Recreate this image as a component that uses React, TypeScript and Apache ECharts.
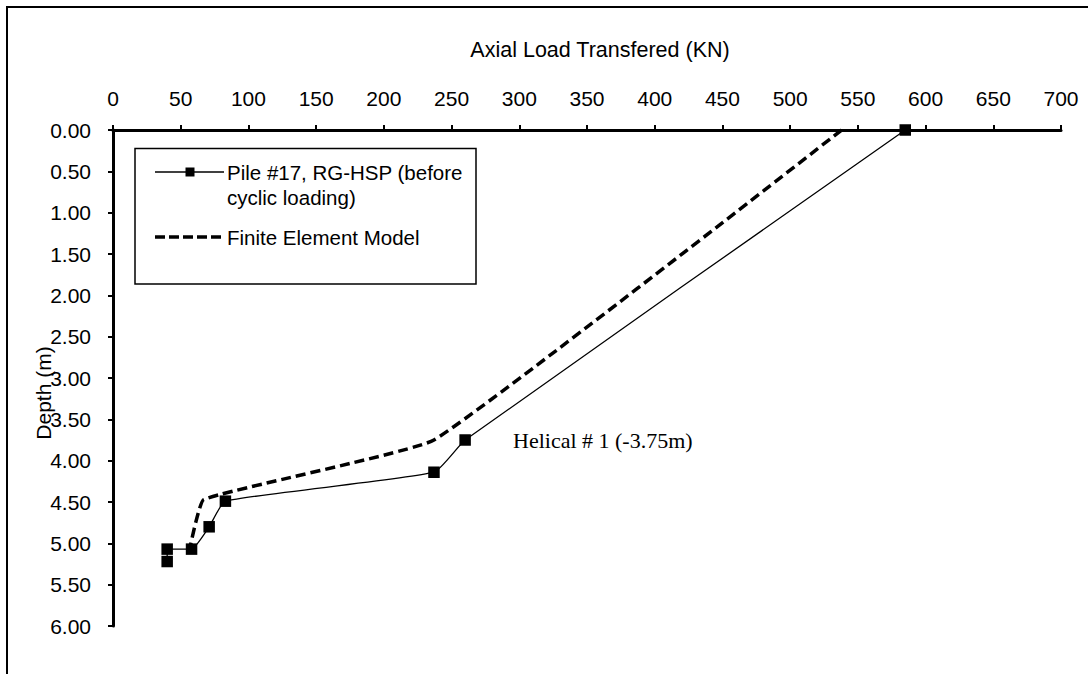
import React, { useEffect, useRef } from "react";
import * as echarts from "echarts";

// Axial load transferred (KN) vs depth (m)
const pileLoad = [585, 260, 237, 83, 71, 58, 40, 40];
const pileDepth = [0, 3.75, 4.14, 4.49, 4.8, 5.07, 5.07, 5.22];
const feLoad = [538, 237, 67, 57];
const feDepth = [0, 3.75, 4.47, 5.04];

const pileName = "Pile #17, RG-HSP (before cyclic loading)";
const feName = "Finite Element Model";
const xTitle = "Axial Load Transfered (KN)";
const yTitle = "Depth (m)";
const annotation = "Helical # 1 (-3.75m)";

const SANS = "'Liberation Sans', Arial, sans-serif";
const SERIF = "'Liberation Serif', 'Times New Roman', serif";

export default function App() {
  const ref = useRef<HTMLDivElement | null>(null);

  useEffect(() => {
    if (!ref.current) return;
    const chart = echarts.init(ref.current, undefined, { renderer: "svg" });

    const axisCommon = {
      type: "value" as const,
      axisLine: { show: true, onZero: false, lineStyle: { color: "#000", width: 3 } },
      axisTick: { show: true, inside: false, length: 5, lineStyle: { color: "#000", width: 2 } },
      splitLine: { show: false },
    };

    chart.setOption({
      animation: false,
      backgroundColor: "#fff",
      grid: { left: 113, top: 130, right: 27, bottom: 48, containLabel: false },
      xAxis: {
        ...axisCommon,
        position: "top",
        min: 0,
        max: 700,
        interval: 50,
        axisLabel: { color: "#000", fontSize: 21, fontFamily: SANS, margin: 21 },
      },
      yAxis: {
        ...axisCommon,
        inverse: true,
        min: 0,
        max: 6,
        interval: 0.5,
        axisLabel: {
          color: "#000",
          fontSize: 21,
          fontFamily: SANS,
          margin: 22,
          formatter: (v: number) => v.toFixed(2),
        },
      },
      series: [
        {
          name: feName,
          type: "line",
          data: feLoad.map((x, i) => [x, feDepth[i]]),
          showSymbol: false,
          symbol: "none",
          smooth: 0.1,
          lineStyle: { color: "#000", width: 3.5, type: [10, 5] },
          z: 2,
        },
        {
          name: pileName,
          type: "line",
          data: pileLoad.map((x, i) => [x, pileDepth[i]]),
          symbol: "rect",
          symbolSize: 11.5,
          smooth: 0.15,
          itemStyle: { color: "#000" },
          lineStyle: { color: "#000", width: 1.3 },
          z: 3,
        },
      ],
      graphic: [
        {
          type: "rect",
          silent: true,
          z: -1,
          shape: { x: 7, y: 7, width: 1200, height: 800 },
          style: { fill: "none", stroke: "#000", lineWidth: 2 },
        },
        {
          type: "text",
          x: 600,
          y: 50,
          style: {
            text: xTitle,
            fill: "#000",
            font: `21.5px ${SANS}`,
            textAlign: "center",
            textVerticalAlign: "middle",
          },
        },
        {
          type: "text",
          x: 43,
          y: 393,
          rotation: Math.PI / 2,
          style: {
            text: yTitle,
            fill: "#000",
            font: `21px ${SANS}`,
            textAlign: "center",
            textVerticalAlign: "middle",
          },
        },
        {
          type: "text",
          x: 513,
          y: 440,
          style: {
            text: annotation,
            fill: "#000",
            font: `22px ${SERIF}`,
            textAlign: "left",
            textVerticalAlign: "middle",
          },
        },
        {
          type: "group",
          children: [
            {
              type: "rect",
              shape: { x: 135, y: 148.5, width: 341, height: 135.5 },
              style: { fill: "#fff", stroke: "#000", lineWidth: 1.5 },
            },
            {
              type: "line",
              shape: { x1: 155, y1: 172, x2: 224, y2: 172 },
              style: { stroke: "#000", lineWidth: 1.3 },
            },
            {
              type: "rect",
              shape: { x: 185.5, y: 167.5, width: 9, height: 9 },
              style: { fill: "#000" },
            },
            {
              type: "text",
              x: 227,
              y: 172,
              style: {
                text: "Pile #17, RG-HSP (before",
                fill: "#000",
                font: `20.5px ${SANS}`,
                textVerticalAlign: "middle",
              },
            },
            {
              type: "text",
              x: 227,
              y: 197,
              style: {
                text: "cyclic loading)",
                fill: "#000",
                font: `20.5px ${SANS}`,
                textVerticalAlign: "middle",
              },
            },
            {
              type: "line",
              shape: { x1: 155, y1: 237, x2: 224, y2: 237 },
              style: { stroke: "#000", lineWidth: 3.5, lineDash: [10, 4] },
            },
            {
              type: "text",
              x: 227,
              y: 237,
              style: {
                text: feName,
                fill: "#000",
                font: `20.5px ${SANS}`,
                textVerticalAlign: "middle",
              },
            },
          ],
        },
      ],
    });

    return () => chart.dispose();
  }, []);

  return (
    <div
      ref={ref}
      style={{ position: "absolute", left: 0, top: 0, width: 1088, height: 674 }}
    />
  );
}
